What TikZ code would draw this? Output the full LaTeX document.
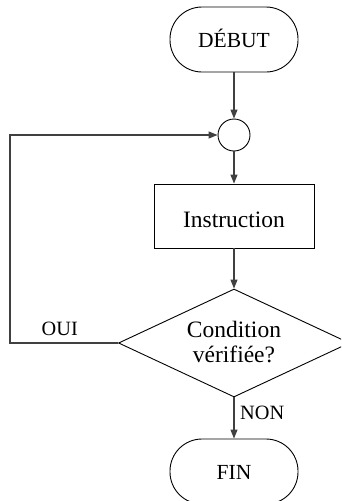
\documentclass[tikz,border=0pt]{standalone}
\usepackage{fontspec}
\setmainfont{Liberation Serif}
\usetikzlibrary{shapes.geometric,arrows.meta}
\begin{document}
\begin{tikzpicture}[x=1pt,y=-1pt,
  capsfont/.style={font=\fontsize{21.5pt}{24pt}\selectfont},
  labelfont/.style={font=\fontsize{20.3pt}{24pt}\selectfont},
  bodyfont/.style={font=\fontsize{23.5pt}{25pt}\selectfont},
  terminal/.style={draw,rounded corners=32pt,minimum width=128pt,minimum height=65pt,
    inner sep=0pt,line width=0.9pt,capsfont,text height=16pt,text depth=0pt},
  junction/.style={draw,circle,minimum size=32pt,inner sep=0pt,line width=0.9pt},
  process/.style={draw,rectangle,minimum width=160pt,minimum height=64pt,
    inner sep=0pt,line width=0.9pt,bodyfont,text height=22pt,text depth=0pt},
  decision/.style={draw,diamond,aspect=2.13,minimum width=231pt,minimum height=108pt,
    inner sep=0pt,line width=0.9pt},
  flow/.style={draw=black!75,line width=1.2pt,-{Triangle[length=9pt,width=7pt]}},
  tag/.style={labelfont,inner sep=0pt,anchor=base west}
]
\useasboundingbox (0,0) rectangle (341,501);
\clip (0,0) rectangle (341,501);

% flowchart blocks
\node[terminal] (start) at (234,39.5) {DÉBUT};
\node[junction] (join) at (234,135) {};
\node[process] (instr) at (234,216) {Instruction};
\node[decision] (cond) at (234,343) {};
\node[bodyfont,align=center,inner sep=0pt] (condtext) at (234,342.5) {Condition\\vérifiée?};
\node[terminal] (stop) at (234,471.5) {FIN};

% branch labels
\node[tag] (yes) at (41.5,335) {OUI};
\node[tag] (no) at (240,419) {NON};

% connectors
\coordinate (loopbottom) at (10,343);
\coordinate (looptop) at (10,135);
\draw[flow] (start) -- (join);
\draw[flow] (join) -- (instr);
\draw[flow] (instr) -- (cond.north);
\draw[flow] (cond.south) -- (stop);
\draw[flow] (cond.west) -- (loopbottom) -- (looptop) -- (join.west);
\end{tikzpicture}
\end{document}
